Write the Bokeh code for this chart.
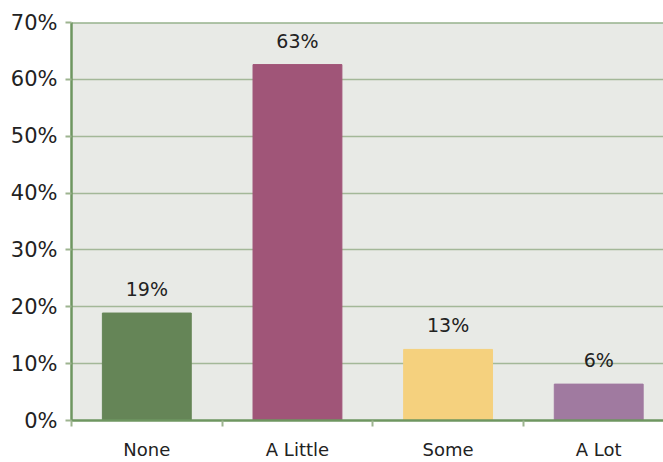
from bokeh.plotting import figure
from bokeh.models import ColumnDataSource, Range1d, FixedTicker, NumeralTickFormatter
from bokeh.core.properties import value
from bokeh.embed import file_html
from bokeh.resources import INLINE

categories = ["None", "A Little", "Some", "A Lot"]
values = [0.189, 0.626, 0.125, 0.064]
labels = ["19%", "63%", "13%", "6%"]
colors = ["#658557", "#A05578", "#F5D17E", "#A07AA0"]
y_ticks = [0, 0.1, 0.2, 0.3, 0.4, 0.5, 0.6, 0.7]

FONT = "DejaVu Sans"
XMAX = 3.93
xs = [i + 0.5 for i in range(len(categories))]

src = ColumnDataSource(dict(x=xs, top=values, color=colors, label=labels))

p = figure(width=663, height=462, output_backend="svg", toolbar_location=None,
           x_range=Range1d(0, XMAX), y_range=Range1d(0, 0.7),
           min_border_left=71, min_border_right=0, min_border_top=22, min_border_bottom=41,
           background_fill_color="#E8EAE6", border_fill_color="white")
p.outline_line_color = None

p.vbar(x="x", top="top", width=0.59, color="color", source=src)
p.text(x="x", y="top", text="label", source=src, text_align="center", text_baseline="bottom",
       y_offset=-13, text_font=value(FONT), text_font_size="19px", text_color="#222222")

# x axis
p.xaxis.ticker = FixedTicker(ticks=xs, minor_ticks=list(range(len(categories) + 1)))
p.xaxis.major_label_overrides = {x: c for x, c in zip(xs, categories)}
p.xaxis.major_tick_line_color = None
p.xaxis.major_tick_out = 0
p.xaxis.major_tick_in = 0
p.xaxis.minor_tick_line_color = "#9DB48F"
p.xaxis.minor_tick_line_width = 2
p.xaxis.minor_tick_out = 6
p.xaxis.minor_tick_in = 0
p.xaxis.axis_line_color = "#6E9660"
p.xaxis.axis_line_width = 2.5
p.xaxis.major_label_standoff = 12
p.xaxis.major_label_text_font = FONT
p.xaxis.major_label_text_font_size = "18px"
p.xaxis.major_label_text_color = "#222222"

# y axis
p.yaxis.ticker = FixedTicker(ticks=y_ticks)
p.yaxis.formatter = NumeralTickFormatter(format="0%")
p.yaxis.axis_line_color = "#6E9660"
p.yaxis.axis_line_width = 2.5
p.yaxis.major_tick_line_color = "#9DB48F"
p.yaxis.major_tick_line_width = 2
p.yaxis.major_tick_out = 6
p.yaxis.major_tick_in = 0
p.yaxis.minor_tick_line_color = None
p.yaxis.major_label_standoff = 8
p.yaxis.major_label_text_font = FONT
p.yaxis.major_label_text_font_size = "21px"
p.yaxis.major_label_text_color = "#222222"

p.xgrid.grid_line_color = None
p.ygrid.grid_line_color = "#A3B898"
p.ygrid.grid_line_width = 1.5

# top border line at 70%
p.line(x=[0, XMAX], y=[0.7, 0.7], line_color="#6E9660", line_width=2)

open("out.html", "w").write(file_html(p, INLINE))
